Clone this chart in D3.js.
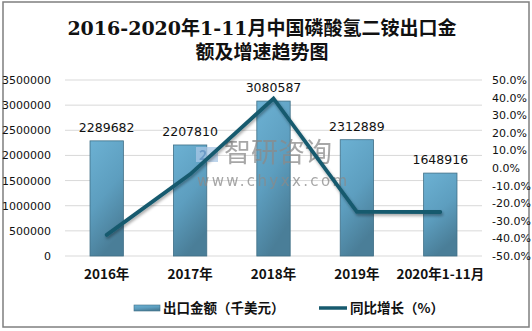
<!DOCTYPE html>
<html>
<head>
<meta charset="utf-8">
<script src="https://cdn.jsdelivr.net/npm/d3@7/dist/d3.min.js"></script>
<style>
  html, body { margin: 0; padding: 0; background: #fff; }
  svg { display: block; }
</style>
</head>
<body>
<svg id="chart" width="532" height="331"></svg>
<script>
// Export value (thousand USD) and year-on-year growth (%)
const categories = ["2016年", "2017年", "2018年", "2019年", "2020年1-11月"];
const exportValues = [2289682, 2207810, 3080587, 2312889, 1648916];
const growthRates = [-38.0, -3.6, 39.5, -24.9, -25.0];
const leftTicks = [0, 500000, 1000000, 1500000, 2000000, 2500000, 3000000, 3500000];
const rightTicks = [-50, -40, -30, -20, -10, 0, 10, 20, 30, 40, 50];
const titleLines = ["2016-2020年1-11月中国磷酸氢二铵出口金", "额及增速趋势图"];
const legendLabels = ["出口金额（千美元）", "同比增长（%）"];

const svg = d3.select("#chart");
const plot = { left: 65, right: 482, top: 80, bottom: 256 };
const sansFont = "'Microsoft YaHei', 'Noto Sans CJK SC', 'DejaVu Sans', sans-serif";
const uiFont = "Tahoma, 'DejaVu Sans', 'Noto Sans CJK SC', sans-serif";

const defs = svg.append("defs");
const grad = defs.append("linearGradient")
  .attr("id", "barFill").attr("x1", "0").attr("y1", "0").attr("x2", "0.35").attr("y2", "1");
grad.append("stop").attr("offset", "0%").attr("stop-color", "#6cb1d3");
grad.append("stop").attr("offset", "55%").attr("stop-color", "#5d9ebf");
grad.append("stop").attr("offset", "100%").attr("stop-color", "#4a7e98");

const shadow = defs.append("filter").attr("id", "lineShadow")
  .attr("x", "-10%").attr("y", "-10%").attr("width", "120%").attr("height", "130%");
shadow.append("feDropShadow").attr("dx", 1).attr("dy", 2).attr("stdDeviation", 1.5)
  .attr("flood-color", "#000").attr("flood-opacity", 0.35);

// Outer frame
svg.append("rect").attr("x", 3).attr("y", 2).attr("width", 526).attr("height", 325)
  .attr("fill", "#fff").attr("stroke", "#7f7f7f").attr("stroke-width", 1.5);

// Title
svg.append("g").selectAll("text").data(titleLines).join("text")
  .attr("x", 262).attr("y", (d, i) => 35 + i * 24)
  .attr("text-anchor", "middle")
  .attr("font-family", "'DejaVu Serif', 'Noto Sans CJK SC', serif")
  .attr("font-size", 19).attr("font-weight", 600).attr("fill", "#111")
  .text(d => d);

// Scales
const x = d3.scaleBand().domain(categories).range([plot.left, plot.right]).paddingInner(0.6).paddingOuter(0.3);
const xc = d => x(d) + x.bandwidth() / 2;
const yL = d3.scaleLinear().domain([0, 3500000]).range([plot.bottom, plot.top]);
const yR = d3.scaleLinear().domain([-50, 50]).range([plot.bottom, plot.top]);

// Gridlines
svg.append("g").selectAll("line").data(leftTicks).join("line")
  .attr("x1", plot.left).attr("x2", plot.right)
  .attr("y1", d => yL(d)).attr("y2", d => yL(d))
  .attr("stroke", "#d9d9d9").attr("stroke-width", 1);

// Left axis
const axL = svg.append("g").attr("transform", `translate(${plot.left - 14},0)`)
  .call(d3.axisLeft(yL).tickValues(leftTicks).tickSize(0).tickPadding(0).tickFormat(d3.format("d")));
axL.select(".domain").remove();
axL.selectAll("text").attr("font-family", uiFont).attr("font-size", 11).attr("fill", "#111");

// Right axis
const axR = svg.append("g").attr("transform", `translate(${plot.right + 10},0)`)
  .call(d3.axisRight(yR).tickValues(rightTicks).tickSize(0).tickPadding(0).tickFormat(d => d.toFixed(1) + "%"));
axR.select(".domain").remove();
axR.selectAll("text").attr("font-family", uiFont).attr("font-size", 11).attr("fill", "#111");

// Category axis
const axX = svg.append("g").attr("transform", `translate(0,${plot.bottom})`)
  .call(d3.axisBottom(x).tickSize(0).tickPadding(13));
axX.select(".domain").remove();
axX.selectAll("text").attr("font-family", sansFont).attr("font-size", 13.5).attr("font-weight", "bold").attr("fill", "#111");

// Bars
svg.append("g").selectAll("rect").data(exportValues).join("rect")
  .attr("x", (d, i) => x(categories[i]))
  .attr("y", d => yL(d))
  .attr("width", x.bandwidth())
  .attr("height", d => yL(0) - yL(d))
  .attr("fill", "url(#barFill)")
  .attr("stroke", "#3f6f86").attr("stroke-width", 0.8);

// Bar value labels
svg.append("g").selectAll("text").data(exportValues).join("text")
  .attr("x", (d, i) => xc(categories[i]))
  .attr("y", d => yL(d) - 9)
  .attr("text-anchor", "middle")
  .attr("font-family", uiFont).attr("font-size", 12.5).attr("fill", "#111")
  .text(d => d);

// Watermark
const wm = svg.append("g").attr("opacity", 0.75);
wm.append("rect").attr("x", 196).attr("y", 147).attr("width", 22).attr("height", 15)
  .attr("fill", "#a9c7e6");
wm.append("text").attr("x", 199).attr("y", 160).attr("font-family", sansFont)
  .attr("font-size", 14).attr("font-weight", "bold").attr("fill", "#6f98c8").text("2");
wm.append("text").attr("x", 224).attr("y", 162).attr("font-family", sansFont)
  .attr("font-size", 27).attr("fill", "#8a8a8a").text("智研咨询");
wm.append("text").attr("x", 197).attr("y", 186).attr("font-family", "'DejaVu Sans', sans-serif")
  .attr("font-size", 15).attr("letter-spacing", 2.4).attr("fill", "#8a8a8a").text("www.chyxx.com");

// Growth line
const line = d3.line().x((d, i) => xc(categories[i])).y(d => yR(d));
svg.append("path").datum(growthRates)
  .attr("d", line)
  .attr("fill", "none").attr("stroke", "#175a6e").attr("stroke-width", 3.8)
  .attr("stroke-linejoin", "miter").attr("stroke-linecap", "round")
  .attr("filter", "url(#lineShadow)");

// Legend
const lg = svg.append("g").attr("font-family", sansFont).attr("font-size", 13.5).attr("font-weight", "bold").attr("fill", "#111");
lg.append("rect").attr("x", 134).attr("y", 305).attr("width", 26).attr("height", 6)
  .attr("fill", "url(#barFill)").attr("stroke", "#3f6f86").attr("stroke-width", 0.6);
lg.append("text").attr("x", 163).attr("y", 313).text(legendLabels[0]);
lg.append("line").attr("x1", 319).attr("x2", 347).attr("y1", 308).attr("y2", 308)
  .attr("stroke", "#175a6e").attr("stroke-width", 3.5);
lg.append("text").attr("x", 350).attr("y", 313).text(legendLabels[1]);
</script>
</body>
</html>
